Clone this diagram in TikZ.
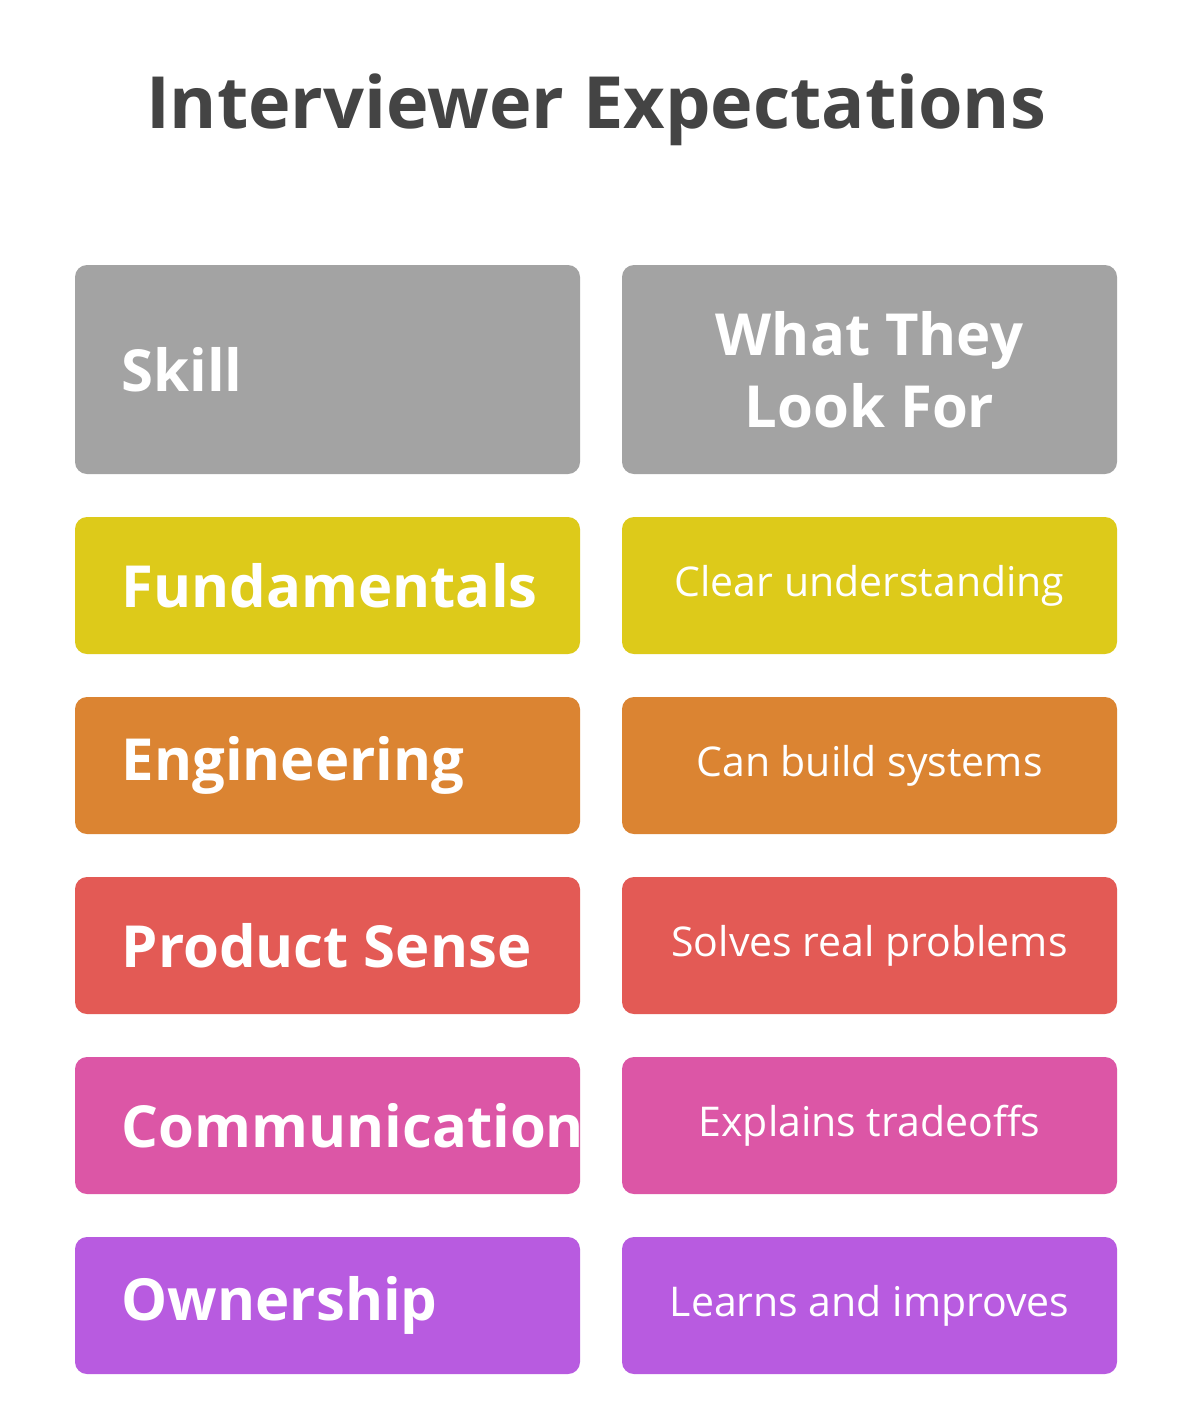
\documentclass[tikz,border=0pt]{standalone}
\usepackage{fontspec}
\setmainfont{Open Sans}
\usetikzlibrary{positioning}
\definecolor{titlegray}{HTML}{444444}
\definecolor{hdrgray}{HTML}{A3A3A3}
\definecolor{fundyellow}{HTML}{DDCA1A}
\definecolor{engorange}{HTML}{DB8432}
\definecolor{prodred}{HTML}{E35A55}
\definecolor{commpink}{HTML}{DC56A6}
\definecolor{ownpurple}{HTML}{B85BE0}
\begin{document}
\begin{tikzpicture}[x=0.5pt, y=-0.5pt,
    cell/.style={rectangle, rounded corners=6pt, inner sep=0pt, text=white},
    skill/.style={cell, minimum width=252.5pt, minimum height=68.5pt, font=\fontsize{29}{34}\selectfont\bfseries},
    look/.style={cell, minimum width=247.5pt, minimum height=68.5pt, font=\fontsize{20.5}{25}\selectfont},
  ]
\useasboundingbox[fill=white] (0,0) rectangle (1193,1414);
\node (title) at (596,110) [text=titlegray, font=\fontsize{36}{40}\selectfont\bfseries] {Interviewer Expectations};
% header row
\node (hskill) [skill, fill=hdrgray, minimum height=104.5pt] at (327.5,369.5) {};
\node [anchor=west, text=white, font=\fontsize{29}{34}\selectfont\bfseries] at (hskill.west) [xshift=20pt] {Skill};
\node (hlook) [cell, fill=hdrgray, minimum width=247.5pt, minimum height=104.5pt, align=center,
  font=\fontsize{29}{36}\selectfont\bfseries] at (869.5,369.5) {What They\\Look For};
% body rows
\foreach \y/\col/\s/\l [count=\i] in {
    585.5/fundyellow/Fundamentals/Clear understanding,
    765.5/engorange/Engineering/Can build systems,
    945.5/prodred/Product Sense/Solves real problems,
    1125.5/commpink/Communication/Explains tradeoffs,
    1305.5/ownpurple/Ownership/Learns and improves} {
  \node (skill\i) [skill, fill=\col] at (327.5,\y) {};
  \node [anchor=west, text=white, font=\fontsize{29}{34}\selectfont\bfseries] at (skill\i.west) [xshift=20pt] {\s};
  \node (look\i) [look, fill=\col] at (869.5,\y) {\l};
}
\end{tikzpicture}
\end{document}
